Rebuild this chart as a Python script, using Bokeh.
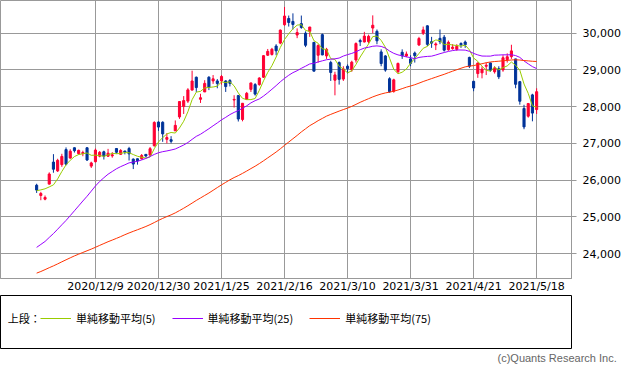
import numpy as np
import pandas as pd
from bokeh.plotting import figure
from bokeh.layouts import column
from bokeh.models import (FixedTicker, NumeralTickFormatter, Legend, LegendItem,
                          Title, ColumnDataSource, Range1d, Label)
from bokeh.embed import file_html
from bokeh.resources import INLINE

# ---------------- data ----------------
dates = [
    "2020/11/18", "2020/11/19", "2020/11/20", "2020/11/24", "2020/11/25", "2020/11/26", "2020/11/27", "2020/11/30",
    "2020/12/1", "2020/12/2", "2020/12/3", "2020/12/4", "2020/12/7", "2020/12/8", "2020/12/9", "2020/12/10",
    "2020/12/11", "2020/12/14", "2020/12/15", "2020/12/16", "2020/12/17", "2020/12/18", "2020/12/21", "2020/12/22",
    "2020/12/23", "2020/12/24", "2020/12/25", "2020/12/28", "2020/12/29", "2020/12/30",
    "2021/1/4", "2021/1/5", "2021/1/6", "2021/1/7", "2021/1/8", "2021/1/12", "2021/1/13", "2021/1/14",
    "2021/1/15", "2021/1/18", "2021/1/19", "2021/1/20", "2021/1/21", "2021/1/22", "2021/1/25", "2021/1/26",
    "2021/1/27", "2021/1/28", "2021/1/29", "2021/2/1", "2021/2/2", "2021/2/3", "2021/2/4", "2021/2/5",
    "2021/2/8", "2021/2/9", "2021/2/10", "2021/2/12", "2021/2/15", "2021/2/16", "2021/2/17", "2021/2/18",
    "2021/2/19", "2021/2/22", "2021/2/24", "2021/2/25", "2021/2/26", "2021/3/1", "2021/3/2", "2021/3/3",
    "2021/3/4", "2021/3/5", "2021/3/8", "2021/3/9", "2021/3/10", "2021/3/11", "2021/3/12", "2021/3/15",
    "2021/3/16", "2021/3/17", "2021/3/18", "2021/3/19", "2021/3/22", "2021/3/23", "2021/3/24", "2021/3/25",
    "2021/3/26", "2021/3/29", "2021/3/30", "2021/3/31", "2021/4/1", "2021/4/2", "2021/4/5", "2021/4/6",
    "2021/4/7", "2021/4/8", "2021/4/9", "2021/4/12", "2021/4/13", "2021/4/14", "2021/4/15", "2021/4/16",
    "2021/4/19", "2021/4/20", "2021/4/21", "2021/4/22", "2021/4/23", "2021/4/26", "2021/4/27", "2021/4/28",
    "2021/4/30", "2021/5/6", "2021/5/7", "2021/5/10", "2021/5/11", "2021/5/12", "2021/5/13", "2021/5/14",
    "2021/5/17", "2021/5/18",
]

opens = [
    25860, 25580, 25480, 25890, 26490, 26250, 26420, 26830, 26600, 26880, 26720, 26720, 26880, 26380, 26500, 26650,
    26770, 26650, 26660, 26860, 26700, 26790, 26860, 26570, 26580, 26580, 26700, 26680, 26936, 27580,
    27575, 27110, 27100, 27340, 27720, 28004, 28150, 28450, 28800, 28200, 28400, 28800, 28700, 28700, 28700, 28700,
    28710, 28180, 28300, 27650, 28200, 28470, 28600, 28600, 28800, 29400, 29420, 29650, 29730, 30230, 30400, 30320,
    29950, 30260, 30000, 30050, 29750, 29400, 29960, 29380, 29200, 28720, 29200, 28750, 29100, 29000, 29270, 29800,
    29760, 29770, 30140, 30050, 29490, 29380, 28760, 28420, 28950, 29480, 29380, 29300, 29460, 29680, 30000, 30200,
    29770, 29680, 29860, 29890, 29550, 29580, 29560, 29720, 29760, 29340, 28690, 28900, 28920, 29100, 29190, 28950,
    29030, 29000, 29280, 29360, 29300, 28680, 27950, 27740, 28320, 27920,
]
highs = [
    25900, 25680, 25580, 26210, 26706, 26580, 26716, 26890, 26840, 26890, 26830, 26800, 26894, 26500, 26860, 26790,
    26800, 26850, 26760, 26870, 26843, 26800, 26905, 26590, 26590, 26710, 26710, 26900, 27602, 27600,
    27600, 27280, 27196, 27624, 28139, 28287, 28503, 28979, 28820, 28350, 28720, 28830, 28860, 28750, 28860, 28720,
    28750, 28310, 28320, 28100, 28400, 28650, 28640, 28800, 29400, 29570, 29600, 29700, 30100, 30714, 30480, 30540,
    30130, 30480, 30050, 30170, 29760, 29700, 29990, 29600, 29250, 28950, 29230, 29100, 29150, 29250, 29750, 29850,
    30036, 29960, 30485, 30100, 29560, 29400, 28800, 28760, 29200, 29560, 29500, 29400, 29500, 29900, 30180, 30214,
    29900, 29750, 30100, 29950, 29800, 29700, 29700, 29750, 29800, 29360, 28700, 29200, 29100, 29200, 29200, 29100,
    29100, 29400, 29450, 29685, 29300, 28700, 28050, 28100, 28350, 28500,
]
lows = [
    25650, 25451, 25450, 25880, 26200, 26220, 26360, 26400, 26580, 26750, 26690, 26650, 26520, 26330, 26480, 26620,
    26560, 26630, 26610, 26720, 26690, 26700, 26533, 26300, 26420, 26560, 26620, 26660, 26910, 27340,
    27042, 27000, 27002, 27340, 27667, 27800, 28100, 28440, 28400, 28100, 28400, 28450, 28620, 28500, 28600, 28400,
    28550, 27975, 27595, 27600, 28180, 28400, 28300, 28570, 28780, 29380, 29390, 29400, 29700, 30200, 30180, 30100,
    29865, 30120, 29620, 29900, 28966, 29200, 29400, 29300, 28700, 28308, 28600, 28700, 28900, 28950, 29200, 29650,
    29750, 29720, 30000, 29700, 29100, 28950, 28379, 28380, 28900, 29300, 29350, 29100, 29200, 29650, 29950, 29650,
    29600, 29540, 29700, 29500, 29520, 29550, 29520, 29600, 29600, 29050, 28419, 28784, 28770, 28860, 28950, 28900,
    28750, 28950, 29200, 29300, 28500, 28054, 27385, 27700, 27600, 27800,
]
closes = [
    25728, 25634, 25527, 26165, 26296, 26537, 26644, 26433, 26787, 26800, 26809, 26751, 26547, 26467, 26817, 26756,
    26652, 26732, 26687, 26757, 26806, 26763, 26714, 26436, 26524, 26668, 26656, 26854, 27568, 27444,
    27258, 27158, 27055, 27490, 28139, 28164, 28456, 28698, 28519, 28242, 28633, 28523, 28756, 28631, 28822, 28546,
    28635, 28197, 27663, 28091, 28362, 28646, 28341, 28779, 29388, 29505, 29562, 29520, 30084, 30467, 30292, 30236,
    30017, 30156, 29671, 30168, 28966, 29663, 29408, 29559, 28930, 28864, 28743, 29027, 29036, 29211, 29717, 29766,
    29921, 29914, 30216, 29792, 29174, 28995, 28405, 28729, 29176, 29384, 29432, 29178, 29388, 29854, 30089, 29696,
    29730, 29708, 29768, 29538, 29751, 29620, 29642, 29683, 29685, 29100, 28508, 29188, 29020, 29126, 28991, 29053,
    28812, 29331, 29357, 29518, 28608, 28147, 27448, 28084, 27824, 28406,
]

# closes before the first visible day (for the moving averages)
history_closes = [
    22339, 21710,
    22195, 22573, 22514, 22418, 22329, 22750, 22843, 23249, 23289, 23096, 23051, 23110, 22880, 22920, 22985,
    23296, 23290, 23208, 22882, 23139,
    23138, 23247, 23465, 23205, 23089, 23274, 23032, 23235, 23406, 23559, 23454, 23475, 23319, 23360, 23346,
    23087, 23204, 23511, 23539, 23185,
    23029, 23312, 23433, 23422, 23647, 23619, 23558, 23601, 23626, 23507, 23410, 23671, 23567, 23639, 23474,
    23516, 23494, 23485, 23418, 23331, 22977,
    23295, 23695, 24105, 24325, 24839, 24905, 25349, 25520, 25385, 25906, 26014,
]

tick_dates = ["2020/12/9", "2020/12/30", "2021/1/25", "2021/2/16", "2021/3/10",
              "2021/3/31", "2021/4/21", "2021/5/18"]
y_ticks = [24000, 25000, 26000, 27000, 28000, 29000, 30000]

ma_periods = [5, 25, 75]
ma_colors = ["#99cc00", "#9900ff", "#ff3300"]
ma_labels = ["単純移動平均(5)", "単純移動平均(25)", "単純移動平均(75)"]

legend_title = "上段："
copyright_text = "(c)Quants Research Inc."

UP_COLOR = "#ff0033"
DOWN_COLOR = "#003399"
GRID = "#999999"
CJK = "Noto Sans CJK JP"

# ---------------- build ----------------
n = len(dates)
idx = np.arange(n)
o = np.array(opens, float)
c = np.array(closes, float)
colors = [UP_COLOR if cc >= oo else DOWN_COLOR for oo, cc in zip(o, c)]
src = ColumnDataSource(dict(
    x=idx, open=o, close=c, high=np.array(highs, float), low=np.array(lows, float),
    top=np.maximum(o, c), bottom=np.minimum(o, c), color=colors,
))

full = pd.Series(history_closes + closes, dtype=float)
nh = len(history_closes)
ma_series = [full.rolling(per).mean().to_numpy()[nh:] for per in ma_periods]

p = figure(width=633, height=295, x_range=Range1d(-8.6, 127.3), y_range=Range1d(23320, 30890),
           y_axis_location="right", toolbar_location=None, output_backend="svg",
           min_border_left=0, min_border_top=0, min_border_right=62, min_border_bottom=14)
p.background_fill_color = "white"
p.border_fill_color = "white"
p.outline_line_color = GRID
p.outline_line_alpha = 1

p.segment(x0="x", y0="low", x1="x", y1="high", line_color="color", line_width=1, source=src)
p.vbar(x="x", width=0.5, top="top", bottom="bottom", fill_color="color", line_color="color",
       line_width=1, source=src)

for ma, col in zip(ma_series, ma_colors):
    p.line(idx, ma, line_color=col, line_width=1)

tick_idx = [dates.index(d) for d in tick_dates]
xax = p.xaxis[0]
xax.ticker = FixedTicker(ticks=tick_idx)
xax.major_label_overrides = {i: d for i, d in zip(tick_idx, tick_dates)}
xax.major_tick_out = 0
xax.major_tick_in = 0
xax.minor_tick_out = 0
xax.minor_tick_in = 0
xax.axis_line_color = GRID
xax.major_label_text_font = "DejaVu Sans"
xax.major_label_text_font_size = "11px"
xax.major_label_text_color = "black"
xax.major_label_standoff = 1

yax = p.yaxis[0]
yax.ticker = FixedTicker(ticks=y_ticks)
yax.formatter = NumeralTickFormatter(format="0,0")
yax.major_tick_out = 5
yax.major_tick_in = 0
yax.minor_tick_out = 0
yax.minor_tick_in = 0
yax.axis_line_color = GRID
yax.major_tick_line_color = GRID
yax.major_label_text_font = "DejaVu Sans"
yax.major_label_text_font_size = "11px"
yax.major_label_text_color = "black"
yax.major_label_standoff = 6

p.xgrid.ticker = FixedTicker(ticks=tick_idx)
p.ygrid.ticker = FixedTicker(ticks=y_ticks)
for g in (p.xgrid, p.ygrid):
    g.grid_line_color = GRID
    g.grid_line_alpha = 1
    g.grid_line_width = 1

# legend panel (ranges in pixels of the panel frame)
p2 = figure(width=633, height=69, x_range=Range1d(0, 632), y_range=Range1d(0, 51),
            toolbar_location=None, output_backend="svg",
            min_border_left=0, min_border_right=1, min_border_top=0, min_border_bottom=0)
p2.axis.visible = False
p2.grid.visible = False
p2.outline_line_color = "black"
p2.outline_line_alpha = 1
p2.background_fill_color = "white"
p2.border_fill_color = "white"

items = []
for ma, col, lbl in zip(ma_series, ma_colors, ma_labels):
    # real MA data; it lies far outside this panel's range so only the legend sample shows
    r = p2.line(idx, ma, line_color=col, line_width=1)
    items.append(LegendItem(label=lbl, renderers=[r]))

leg = Legend(items=items, orientation="horizontal", location=(40, 22),
             label_text_font=CJK, label_text_font_size="11px",
             label_text_color="black", glyph_width=31, glyph_height=14,
             label_standoff=5, spacing=16, padding=0, margin=0,
             border_line_alpha=0, background_fill_alpha=0)
p2.add_layout(leg, "center")

p2.add_layout(Label(x=8, y=29, text=legend_title, text_font=CJK, text_font_size="11px",
                    text_color="black", text_baseline="middle", text_align="left"))

p2.add_layout(Title(text=copyright_text, align="left", text_font="Liberation Sans",
                    text_font_size="11px", text_font_style="normal", text_color="#666666",
                    standoff=2, offset=497), "below")

layout = column(p, p2, spacing=0)

open("out.html", "w").write(file_html(layout, INLINE))
